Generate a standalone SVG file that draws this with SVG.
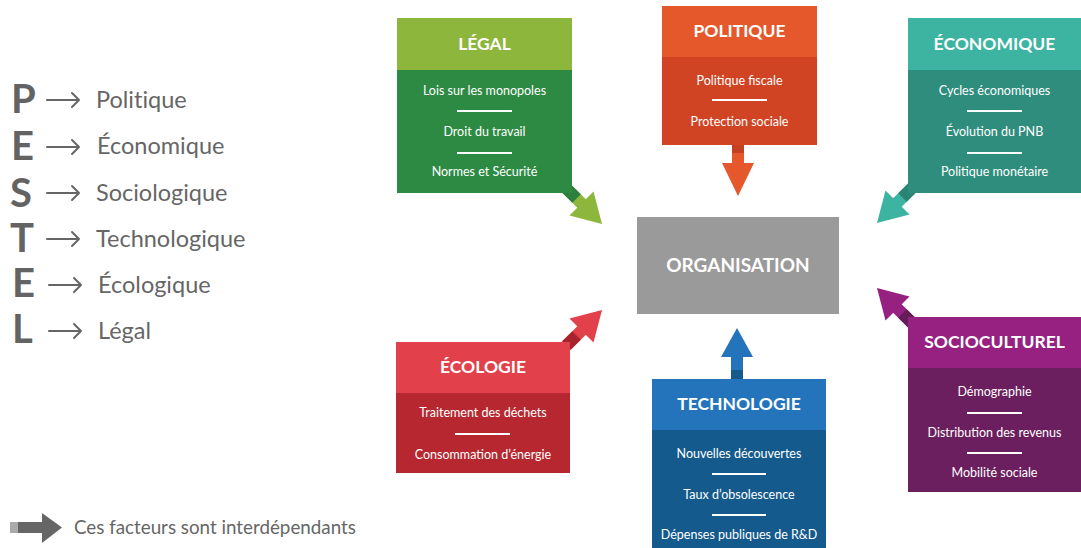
<svg xmlns="http://www.w3.org/2000/svg" width="1081" height="548" viewBox="0 0 1081 548">
<style>
.hd{font-family:Lato,"Liberation Sans",sans-serif;font-weight:bold;font-size:17.5px;fill:#fff;text-anchor:middle}
.it{font-family:Lato,"Liberation Sans",sans-serif;font-size:12.5px;fill:#fff;text-anchor:middle}
.sep{stroke:#fff;stroke-width:2}
.big{font-family:Lato,"Liberation Sans",sans-serif;font-weight:bold;font-size:40px;fill:#636363}
.wd{font-family:Lato,"Liberation Sans",sans-serif;font-size:23.5px;fill:#666;font-variant-ligatures:none}
.la{fill:none;stroke:#666;stroke-width:2;stroke-linecap:round;stroke-linejoin:round}
</style>
<rect width="1081" height="548" fill="#fff"/>
<g id="connectors">
<g transform="translate(602,224) rotate(45)" fill="#8cb63c"><rect x="-52" y="-6" width="26" height="12"/><rect x="-50" y="-6" width="14" height="12" fill="#2c7f3d"/><polygon points="-29,-17 0,0 -29,17"/></g>
<g transform="translate(877,223) rotate(135)" fill="#3db3a1"><rect x="-52" y="-6" width="26" height="12"/><rect x="-50" y="-6" width="14" height="12" fill="#2a8373"/><polygon points="-29,-17 0,0 -29,17"/></g>
<g transform="translate(602,310) rotate(-45)" fill="#e2404a"><rect x="-52" y="-6" width="26" height="12"/><rect x="-50" y="-6" width="14" height="12" fill="#a8242c"/><polygon points="-29,-17 0,0 -29,17"/></g>
<g transform="translate(877,288) rotate(-135)" fill="#962181"><rect x="-52" y="-6" width="26" height="12"/><rect x="-50" y="-6" width="14" height="12" fill="#651d58"/><polygon points="-29,-17 0,0 -29,17"/></g>
<g fill="#e5582b"><rect x="732" y="145" width="12" height="20"/><rect x="732" y="145" width="12" height="8" fill="#c54022"/><polygon points="722,163 754,163 738,196"/></g>
<g fill="#2474bb"><rect x="731" y="355" width="12" height="24"/><rect x="731" y="370" width="12" height="9" fill="#155a8c"/><polygon points="721,357 753,357 737,328"/></g>
</g>
<g id="legal">
<rect x="397" y="70" width="175" height="123" fill="#2c8a43"/>
<rect x="397" y="18" width="175" height="52" fill="#8cb63c"/>
<text class="hd" x="484.5" y="50">LÉGAL</text>
<text class="it" x="484.5" y="95">Lois sur les monopoles</text>
<line class="sep" x1="457" y1="111" x2="512" y2="111"/>
<text class="it" x="484.5" y="136">Droit du travail</text>
<line class="sep" x1="457" y1="153" x2="512" y2="153"/>
<text class="it" x="484.5" y="176">Normes et Sécurité</text>
</g>
<g id="politique">
<rect x="662" y="57" width="155" height="88" fill="#d04424"/>
<rect x="662" y="6" width="155" height="51" fill="#e5582b"/>
<text class="hd" x="739.5" y="37">POLITIQUE</text>
<text class="it" x="739.5" y="85">Politique fiscale</text>
<line class="sep" x1="712" y1="100" x2="767" y2="100"/>
<text class="it" x="739.5" y="126">Protection sociale</text>
</g>
<g id="economique">
<rect x="908" y="70" width="173" height="123" fill="#2f8d7d"/>
<rect x="908" y="18" width="173" height="52" fill="#3db3a1"/>
<text class="hd" x="994.5" y="50">ÉCONOMIQUE</text>
<text class="it" x="994.5" y="95">Cycles économiques</text>
<line class="sep" x1="967" y1="111" x2="1022" y2="111"/>
<text class="it" x="994.5" y="136">Évolution du PNB</text>
<line class="sep" x1="967" y1="153" x2="1022" y2="153"/>
<text class="it" x="994.5" y="176">Politique monétaire</text>
</g>
<g id="organisation">
<rect x="637" y="217" width="202" height="97" fill="#9a9a9a"/>
<text class="hd" x="738" y="272" style="font-size:19px">ORGANISATION</text>
</g>
<g id="ecologie">
<rect x="396" y="393" width="174" height="80" fill="#b7272f"/>
<rect x="396" y="342" width="174" height="51" fill="#e2404a"/>
<text class="hd" x="483" y="373">ÉCOLOGIE</text>
<text class="it" x="483" y="417">Traitement des déchets</text>
<line class="sep" x1="455" y1="434" x2="510" y2="434"/>
<text class="it" x="483" y="459">Consommation d’énergie</text>
</g>
<g id="technologie">
<rect x="652" y="430" width="174" height="118" fill="#155a8c"/>
<rect x="652" y="379" width="174" height="51" fill="#2474bb"/>
<text class="hd" x="739" y="410">TECHNOLOGIE</text>
<text class="it" x="739" y="458">Nouvelles découvertes</text>
<line class="sep" x1="712" y1="474" x2="766" y2="474"/>
<text class="it" x="739" y="499">Taux d’obsolescence</text>
<line class="sep" x1="712" y1="515" x2="766" y2="515"/>
<text class="it" x="739" y="539">Dépenses publiques de R&amp;D</text>
</g>
<g id="socioculturel">
<rect x="908" y="368" width="173" height="124" fill="#6b1f5e"/>
<rect x="908" y="317" width="173" height="51" fill="#962181"/>
<text class="hd" x="994.5" y="348">SOCIOCULTUREL</text>
<text class="it" x="994.5" y="396">Démographie</text>
<line class="sep" x1="967" y1="413" x2="1022" y2="413"/>
<text class="it" x="994.5" y="437">Distribution des revenus</text>
<line class="sep" x1="967" y1="453" x2="1022" y2="453"/>
<text class="it" x="994.5" y="477">Mobilité sociale</text>
</g>
<g id="pestel">
<text class="big" x="11" y="113">P</text>
<text class="big" x="11" y="160">E</text>
<text class="big" x="10" y="207">S</text>
<text class="big" x="10" y="252">T</text>
<text class="big" x="12" y="297">E</text>
<text class="big" x="12" y="343">L</text>
<path class="la" d="M47,100 H79 M72,93 L79,100 L72,107"/>
<path class="la" d="M47,147 H79 M72,140 L79,147 L72,154"/>
<path class="la" d="M47,193 H79 M72,186 L79,193 L72,200"/>
<path class="la" d="M47,239 H79 M72,232 L79,239 L72,246"/>
<path class="la" d="M49,285 H81 M74,278 L81,285 L74,292"/>
<path class="la" d="M49,331 H81 M74,324 L81,331 L74,338"/>
<text class="wd" x="96" y="108">Politique</text>
<text class="wd" x="97" y="154">Économique</text>
<text class="wd" x="96" y="201">Sociologique</text>
<text class="wd" x="96" y="247">Technologique</text>
<text class="wd" x="98" y="293">Écologique</text>
<text class="wd" x="98" y="339">Légal</text>
</g>
<g id="legend">
<rect x="10" y="522" width="8" height="11" fill="#aaa"/>
<rect x="18" y="522" width="25" height="11" fill="#666"/>
<polygon points="42,513 62,527.5 42,543" fill="#666"/>
<text class="wd" x="74" y="534" style="font-size:18.8px">Ces facteurs sont interdépendants</text>
</g>
</svg>
